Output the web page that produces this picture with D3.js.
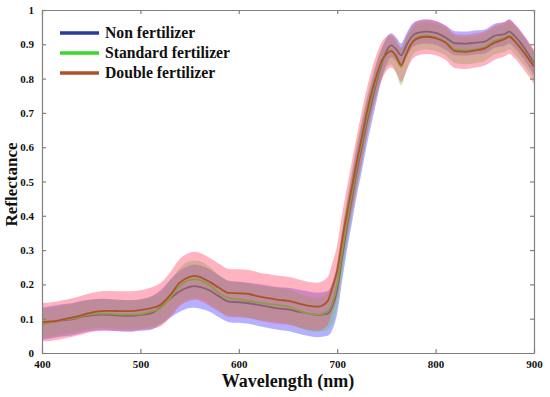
<!DOCTYPE html>
<meta charset="utf-8">
<script src="https://d3js.org/d3.v7.min.js"></script>
<style>
  body { margin: 0; background: #fff; }
</style>
<div id="chart"></div>
<script>

    // wavelengths (nm)
    var wavelength = [400,410,420,430,440,450,460,470,480,490,500,510,520,530,540,550,555,560,570,580,590,600,610,620,630,640,650,660,670,680,690,695,700,705,710,715,720,725,730,735,740,745,750,755,760,765,770,775,780,790,800,810,820,830,840,850,860,870,875,880,890,900];

    // mean reflectance
    var nonMean = [.085,.090,.095,.098,.105,.110,.112,.111,.109,.108,.111,.115,.132,.158,.180,.193,.195,.193,.183,.165,.150,.148,.145,.140,.135,.130,.127,.121,.115,.111,.115,.135,.185,.28,.37,.45,.53,.60,.67,.73,.79,.84,.88,.897,.885,.868,.895,.92,.932,.937,.933,.92,.903,.902,.905,.908,.925,.930,.937,.925,.89,.845];
    var stdMean = [.086,.090,.096,.100,.107,.113,.115,.114,.112,.112,.113,.120,.130,.160,.195,.213,.215,.213,.198,.175,.160,.157,.152,.147,.143,.140,.135,.125,.115,.112,.120,.145,.20,.295,.385,.465,.545,.615,.685,.745,.80,.845,.872,.882,.86,.835,.87,.90,.918,.925,.92,.908,.885,.882,.885,.892,.91,.918,.925,.912,.878,.838];
    var dblMean = [.090,.092,.097,.103,.110,.118,.122,.123,.122,.122,.125,.130,.140,.168,.205,.222,.225,.222,.208,.190,.175,.174,.172,.165,.160,.155,.152,.145,.138,.135,.150,.190,.24,.33,.41,.485,.56,.63,.70,.76,.81,.85,.872,.88,.865,.84,.87,.90,.915,.922,.918,.905,.88,.878,.882,.888,.905,.915,.922,.91,.875,.835];

    // standard deviation
    var nonSd = [.047,.047,.047,.047,.047,.046,.046,.046,.046,.046,.046,.048,.050,.055,.060,.062,.063,.063,.062,.061,.060,.060,.060,.061,.062,.062,.063,.064,.065,.065,.065,.068,.07,.07,.07,.07,.07,.07,.065,.06,.055,.045,.04,.035,.035,.035,.035,.035,.035,.035,.035,.035,.035,.035,.035,.035,.035,.035,.035,.035,.035,.035];
    var stdSd = [.042,.042,.042,.042,.042,.042,.042,.042,.042,.042,.042,.044,.046,.050,.053,.055,.055,.055,.054,.052,.051,.050,.050,.050,.050,.050,.050,.050,.050,.050,.052,.060,.065,.065,.065,.065,.065,.065,.06,.055,.05,.045,.04,.04,.045,.055,.05,.04,.04,.04,.04,.04,.04,.04,.04,.04,.04,.04,.04,.04,.04,.04];
    var dblSd = [.056,.056,.056,.056,.057,.057,.058,.058,.058,.058,.058,.060,.063,.066,.069,.070,.070,.070,.070,.070,.070,.070,.070,.070,.070,.070,.070,.070,.070,.070,.070,.072,.075,.075,.075,.075,.075,.075,.07,.065,.06,.055,.05,.048,.048,.05,.05,.05,.05,.05,.05,.05,.05,.05,.05,.05,.05,.05,.05,.05,.05,.05];

    var seriesNames = ["Non fertilizer", "Standard fertilizer", "Double fertilizer"];
    var xTicks = [400, 500, 600, 700, 800, 900];
    var yTicks = [0, 0.1, 0.2, 0.3, 0.4, 0.5, 0.6, 0.7, 0.8, 0.9, 1];

    var lineColors = ["#2b3a9a", "#3ad82a", "#b0502a"];
    var bandColors = ["#5a50ff", "#45d045", "#ff4a6a"];
    var bandOpacity = [0.45, 0.35, 0.42];
    var serif = "'Liberation Serif', 'Times New Roman', Times, serif";

    var margin = {top: 10, right: 16, bottom: 44, left: 42},
        width = 534 - margin.left,
        height = 353 - margin.top;

    var svg = d3.select("#chart")
        .append("svg")
            .attr("width", 550)
            .attr("height", 397)
        .append("g")
            .attr("transform", "translate(" + margin.left + "," + margin.top + ")");

    var x = d3.scaleLinear().domain([400, 900]).range([0, width]);
    var y = d3.scaleLinear().domain([0, 1]).range([height, 0]);

    var series = [
        {mean: nonMean, sd: nonSd},
        {mean: stdMean, sd: stdSd},
        {mean: dblMean, sd: dblSd}
    ];

    function bandPath(s) {
        return d3.area()
            .x(function(d, i) { return x(wavelength[i]); })
            .y0(function(d, i) { return y(s.mean[i] - s.sd[i]); })
            .y1(function(d, i) { return y(s.mean[i] + s.sd[i]); })
            .curve(d3.curveMonotoneX);
    }
    var meanPath = d3.line()
        .x(function(d, i) { return x(wavelength[i]); })
        .y(function(d) { return y(d); })
        .curve(d3.curveMonotoneX);

    // band then line for each series, like shaded error bars
    series.forEach(function(s, k) {
        svg.append("path")
            .datum(s.mean)
            .attr("d", bandPath(s))
            .attr("fill", bandColors[k])
            .attr("fill-opacity", bandOpacity[k])
            .attr("stroke", "none");
        svg.append("path")
            .datum(s.mean)
            .attr("d", meanPath)
            .attr("fill", "none")
            .attr("stroke", lineColors[k])
            .attr("stroke-width", 1.8);
    });

    // axes (box with inward ticks)
    var axisColor = "#808080";
    var axBottom = svg.append("g")
        .attr("transform", "translate(0," + height + ")")
        .call(d3.axisBottom(x).tickValues(xTicks).tickSizeInner(-4).tickSizeOuter(0).tickPadding(7));
    var axLeft = svg.append("g")
        .call(d3.axisLeft(y).tickValues(yTicks).tickSizeInner(-4).tickSizeOuter(0).tickPadding(8)
            .tickFormat(function(d) { return d === 0 || d === 1 ? d : d3.format(".1f")(d); }));
    var axTop = svg.append("g")
        .call(d3.axisTop(x).tickValues(xTicks).tickSizeInner(-4).tickSizeOuter(0).tickFormat(""));
    var axRight = svg.append("g")
        .attr("transform", "translate(" + width + ",0)")
        .call(d3.axisRight(y).tickValues(yTicks).tickSizeInner(-4).tickSizeOuter(0).tickFormat(""));

    [axBottom, axLeft, axTop, axRight].forEach(function(a) {
        a.attr("font-family", serif);
        a.selectAll("path, line").attr("stroke", axisColor).attr("stroke-width", 1.2);
        a.selectAll("text")
            .attr("fill", "#111")
            .style("font-family", serif)
            .style("font-weight", "bold")
            .style("font-size", "11px");
    });

    // axis titles
    svg.append("text")
        .attr("x", width / 2)
        .attr("y", height + 34)
        .attr("text-anchor", "middle")
        .style("font-family", serif)
        .style("font-weight", "bold")
        .style("font-size", "18px")
        .attr("fill", "#111")
        .text("Wavelength (nm)");

    svg.append("text")
        .attr("transform", "rotate(-90)")
        .attr("x", -height / 2 - 3)
        .attr("y", -margin.left + 17)
        .attr("text-anchor", "middle")
        .style("font-family", serif)
        .style("font-weight", "bold")
        .style("font-size", "17px")
        .attr("fill", "#111")
        .text("Reflectance");

    // legend
    var legend = svg.append("g").attr("transform", "translate(18,23)");
    seriesNames.forEach(function(name, k) {
        legend.append("line")
            .attr("x1", 0).attr("x2", 39)
            .attr("y1", k * 20).attr("y2", k * 20)
            .attr("stroke", lineColors[k])
            .attr("stroke-width", 3.5);
        legend.append("text")
            .attr("x", 45)
            .attr("y", k * 20 + 5)
            .style("font-family", serif)
            .style("font-weight", "bold")
            .style("font-size", "15.7px")
            .attr("fill", "#111")
            .text(name);
    });

</script>
